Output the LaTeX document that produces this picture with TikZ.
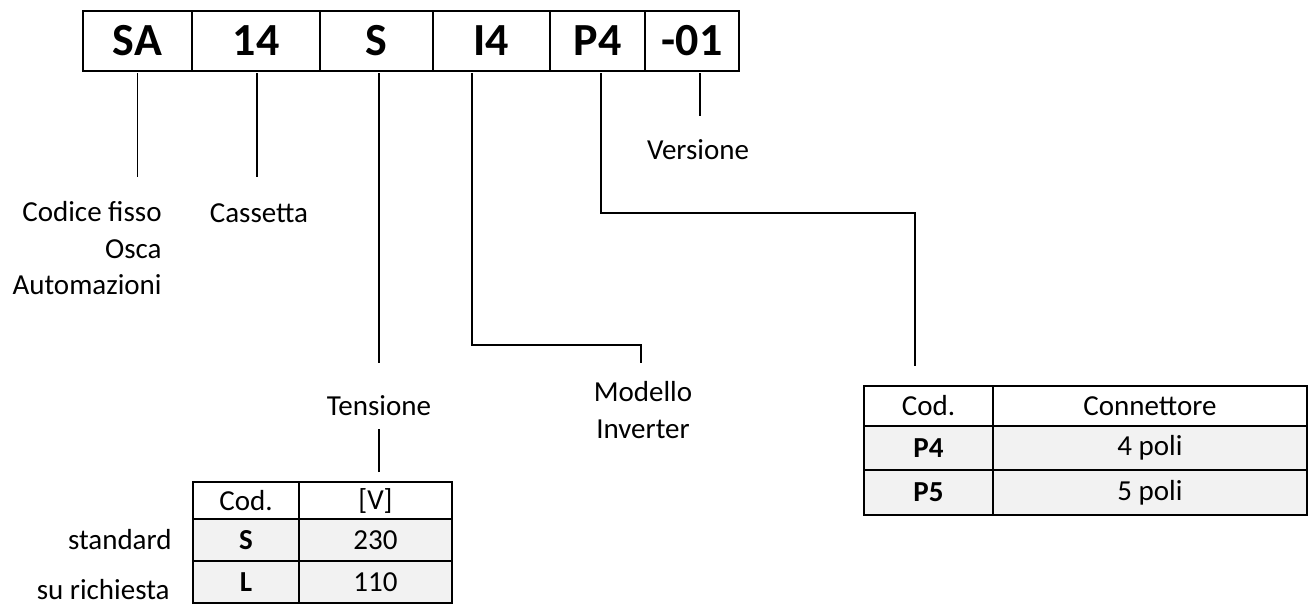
\documentclass[tikz,border=0pt]{standalone}
\usepackage{fontspec}
\setmainfont{Carlito}
\usepackage{tikz}
\usetikzlibrary{positioning}
\definecolor{rowgray}{RGB}{242,242,242}
\newcommand\lblfont{\fontsize{14.5}{18.25}\selectfont}

\begin{document}
\begin{tikzpicture}[x=0.5pt, y=-0.5pt,
    code/.style={draw, line width=1pt, minimum height=30pt, inner sep=0pt,
                 outer sep=0pt, font=\fontsize{23}{27}\selectfont\bfseries},
    lbl/.style={inner sep=0pt, font=\lblfont},
    link/.style={line width=0.75pt},
    cell/.style={draw, line width=1pt, inner sep=0pt, outer sep=0pt, font=\lblfont},
    grayrow/.style={fill=rowgray}
]
    \useasboundingbox (0,0) rectangle (1313,607);

    \node[code, minimum width=54.5pt] (sa) at (137.5,41) {SA};
    \node[code, minimum width=64pt, right=0pt of sa] (c14) {14};
    \node[code, minimum width=56.5pt, right=0pt of c14] (cs) {S};
    \node[code, minimum width=58.5pt, right=0pt of cs] (ci4) {I4};
    \node[code, minimum width=47.5pt, right=0pt of ci4] (cp4) {P4};
    \node[code, minimum width=47pt, right=0pt of cp4] (cver) {-01};

    \node[lbl, align=right, anchor=north east] (codice) at (162,201) {Codice fisso\\Osca\\Automazioni};
    \node[lbl, anchor=base] (cassetta) at (259,222) {Cassetta};
    \node[lbl, anchor=base] (versione) at (698,159) {Versione};
    \node[lbl, anchor=base] (tensione) at (379,415) {Tensione};
    \node[lbl, align=center, anchor=north] (modello) at (643,381) {Modello\\Inverter};
    \node[lbl, anchor=base east] (std) at (172,549) {standard};
    \node[lbl, anchor=base east] (rich) at (170,599) {su richiesta};

    \node[cell, minimum width=53pt, minimum height=18.5pt] (lcod) at (246,500.5) {Cod.};
    \node[cell, minimum width=76.5pt, minimum height=18.5pt, right=0pt of lcod] (vhead) {[V]};
    \node[cell, grayrow, minimum width=53pt, minimum height=21pt, below=0pt of lcod] (ls) {\textbf{S}};
    \node[cell, grayrow, minimum width=76.5pt, minimum height=21pt, right=0pt of ls] (l230) {230};
    \node[cell, grayrow, minimum width=53pt, minimum height=21pt, below=0pt of ls] (ll) {\textbf{L}};
    \node[cell, grayrow, minimum width=76.5pt, minimum height=21pt, right=0pt of ll] (l110) {110};

    \node[cell, minimum width=64.5pt, minimum height=20pt] (rcod) at (928.5,406) {Cod.};
    \node[cell, minimum width=157pt, minimum height=20pt, right=0pt of rcod] (rhead) {Connettore};
    \node[cell, grayrow, minimum width=64.5pt, minimum height=22pt, below=0pt of rcod] (rp4) {\textbf{P4}};
    \node[cell, grayrow, minimum width=157pt, minimum height=22pt, right=0pt of rp4] (r4) {4 poli};
    \node[cell, grayrow, minimum width=64.5pt, minimum height=22.5pt, below=0pt of rp4] (rp5) {\textbf{P5}};
    \node[cell, grayrow, minimum width=157pt, minimum height=22.5pt, right=0pt of rp5] (r5) {5 poli};

    \draw[link] ([yshift=-1pt]sa.south) -- ++(0,104);
    \draw[link] ([xshift=0.5pt,yshift=-1pt]c14.south) -- ++(0,104);
    \draw[link] ([xshift=1.25pt,yshift=-1pt]cs.south) -- ++(0,290);
    \draw[link] ([xshift=-9.75pt,yshift=-1pt]ci4.south) -- ++(0,272)
        -| ([xshift=-1pt,yshift=9pt]modello.north);
    \draw[link] ([xshift=1.75pt,yshift=-1pt]cp4.south) -- ++(0,140)
        -| ([xshift=-6.75pt,yshift=10pt]rcod.north);
    \draw[link] ([xshift=4pt,yshift=-1pt]cver.south) -- ++(0,43);
    \draw[link] ([xshift=1.75pt,yshift=5pt]vhead.north) -- ++(0,-43);
\end{tikzpicture}
\end{document}
